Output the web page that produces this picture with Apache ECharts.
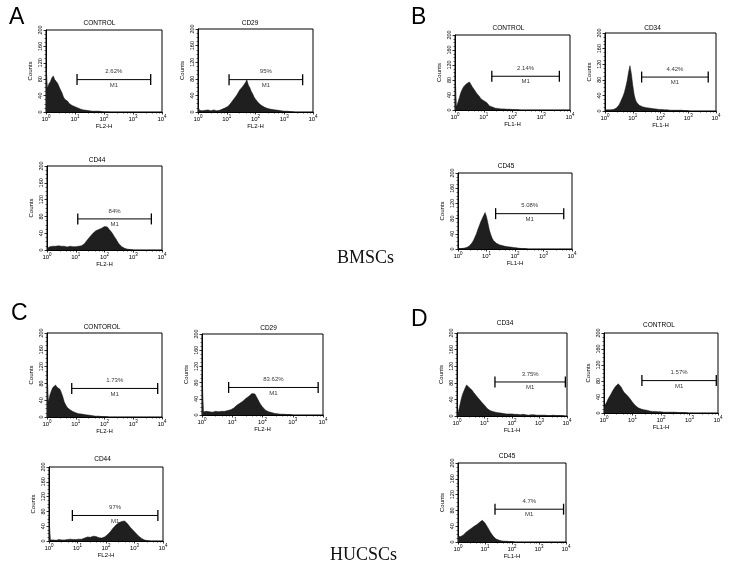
<!DOCTYPE html>
<html><head><meta charset="utf-8">
<script src="https://cdn.jsdelivr.net/npm/echarts@6/dist/echarts.min.js"></script>
<style>html,body{margin:0;padding:0;background:#fff}#c{width:735px;height:587px}</style>
</head><body><div id="c"></div>
<script>
// ---------- DATA ----------
const binStep = 0.05;               // width of one histogram bin, in decades, first bin at 10^0
const xTickExponents = [0, 1, 2, 3, 4];
const yTicks = [0, 40, 80, 120, 160, 200];
const panelLetters = ['A', 'B', 'C', 'D'];
const groupLabels = ['BMSCs', 'HUCSCs'];
const panelTitles = ['CONTROL', 'CD29', 'CD44', 'CONTROL', 'CD34', 'CD45',
                     'CONTOROL', 'CD29', 'CD44', 'CD34', 'CONTROL', 'CD45'];
const channelNames = ['FL2-H', 'FL2-H', 'FL2-H', 'FL1-H', 'FL1-H', 'FL1-H',
                      'FL2-H', 'FL2-H', 'FL2-H', 'FL1-H', 'FL1-H', 'FL1-H'];
const gatePercents = ['2.62%', '95%', '84%', '2.14%', '4.42%', '5.08%',
                      '1.73%', '83.62%', '97%', '3.75%', '1.57%', '4.7%'];
const gateName = 'M1';
const gateStartDecade = [1.07, 1.08, 1.07, 1.28, 1.32, 1.32, 0.86, 0.88, 0.82, 1.38, 1.33, 1.37];
const gateEndDecade   = [3.61, 3.64, 3.63, 3.63, 3.72, 3.71, 3.85, 3.84, 3.82, 3.94, 3.94, 3.91];
const gateLevel       = [79, 78, 74, 90, 87, 93, 68, 68, 69, 82, 81, 83];

const countsBmscControl = [114,58,69,74,83,88,79,81,70,66,54,47,37,31,27,26,21,20,16,15,13,11,10,9,7,7,5,5,4,4,3,3,2,3,2,1,2,1,1,1,0,1,0,1,0];
const countsBmscCD29 = [14,4,5,3,4,4,3,5,4,3,4,5,4,3,5,4,6,7,8,10,12,14,17,22,27,31,36,41,47,53,55,61,63,71,77,65,59,50,44,36,31,27,22,19,16,14,12,11,9,8,7,6,6,5,5,4,4,3,3,3,2,2,2,1,1,1,1,0];
const countsBmscCD44 = [4,6,8,7,9,10,9,11,10,8,9,10,9,8,7,8,9,7,8,7,8,8,9,8,10,12,15,19,24,28,32,36,40,43,46,45,49,48,52,50,56,53,55,50,47,42,38,31,26,20,15,11,8,6,4,3,2,2,1,1,0];
const countsBmscControlFL1 = [101,8,20,33,46,55,62,67,70,72,75,70,62,57,51,45,41,36,30,27,25,28,20,15,11,9,8,6,5,5,4,4,3,3,3,2,2,2,2,1,1,1,1,0,1,0];
const countsBmscCD34 = [3,2,3,2,3,3,4,5,7,10,15,22,30,38,48,62,78,100,116,95,66,42,28,21,17,14,12,11,10,9,8,8,7,7,6,6,5,5,5,4,4,4,3,3,3,3,3,2,3,2,2,2,2,2,1,2,1,1,1,1,1,0];
const countsBmscCD45 = [1,1,1,2,2,3,4,6,8,12,17,24,32,41,52,62,72,80,88,96,85,68,50,38,28,22,18,15,12,11,10,9,8,7,7,6,5,5,4,4,3,3,2,2,2,1,1,1,1,0];
const countsHucscControl = [107,35,52,62,70,74,76,71,70,66,58,48,36,29,23,19,17,15,13,12,10,9,8,8,7,6,6,5,5,4,4,3,3,3,2,2,2,2,1,1,1,1,1,0];
const countsHucscCD29 = [99,8,7,9,6,8,10,7,8,9,7,8,10,9,8,9,10,11,12,13,14,17,21,24,27,29,32,34,38,41,44,46,49,53,55,52,45,38,31,25,20,16,12,10,8,7,6,5,4,4,3,3,2,2,2,2,1,1,1,1,0];
const countsHucscCD44 = [64,3,2,3,3,2,3,4,3,3,4,3,4,4,3,5,4,4,5,4,5,5,6,5,7,8,10,11,12,10,12,13,11,12,10,9,8,8,9,11,14,17,21,25,30,35,39,43,46,49,50,53,55,54,50,47,42,37,33,29,25,21,17,13,10,7,5,3,2,1,1,0];
const countsHucscCD34 = [2,10,25,40,52,60,68,75,72,68,64,62,57,54,49,46,41,38,33,30,26,22,18,15,13,12,11,10,9,9,8,8,7,7,6,6,5,5,5,4,5,4,4,3,4,4,3,3,4,3,3,3,2,3,3,2,3,2,2,3,2,2,2,1,2,2,1,2,1,1,2,1,1,1,1,1,1,0,1];
const countsHucscControlFL1 = [15,18,28,36,42,48,55,60,66,71,73,70,65,58,52,49,45,41,37,33,27,22,19,16,13,11,10,9,8,7,7,6,5,5,4,4,4,3,3,3,3,3,2,3,2,2,2,2,2,1,2,2,1,1,1,1,1,1,1,0];
const countsHucscCD45 = [14,12,14,16,18,22,25,28,30,32,35,37,40,42,44,47,50,53,55,52,48,43,37,31,25,20,15,11,8,6,5,4,3,3,2,2,2,1,1,1,1,1,0];

const histograms = [countsBmscControl, countsBmscCD29, countsBmscCD44,
                    countsBmscControlFL1, countsBmscCD34, countsBmscCD45,
                    countsHucscControl, countsHucscCD29, countsHucscCD44,
                    countsHucscCD34, countsHucscControlFL1, countsHucscCD45];

// ---------- LAYOUT (styles only) ----------
const boxes = [[46,30,116,82],[198,29,115,83],[47,166,115,84],
               [455,35,115,75],[605,33,111,78],[458,173,114,76],
               [47,333,115,84],[202,334,121,81],[49,467,114,74],
               [457,333,110,83],[604,333,114,80],[458,463,108,79]];
const titlePos = [[99.5,23],[250,23.5],[97,160.5],[508.5,28.7],[652.5,28.5],[506,166],
                  [102,327.5],[268.5,328.5],[102.5,459],[505,323.5],[659,325.5],[507,456]];
const letterPos = [[9,17.5],[411,17.5],[11,314],[411,320]];
const groupPos = [[337,258],[330,555]];

const FONT = '"Liberation Sans", Arial, Helvetica, sans-serif';
const INK = '#000';

const grids = [], xAxes = [], yAxes = [], series = [], graphics = [];
histograms.forEach((counts, k) => {
  const b = boxes[k];
  grids.push({left: b[0], top: b[1], width: b[2], height: b[3], show: true,
              borderColor: '#000', borderWidth: 1, backgroundColor: 'transparent'});
  xAxes.push({
    type: 'log', logBase: 10, min: Math.pow(10, xTickExponents[0]),
    max: Math.pow(10, xTickExponents[xTickExponents.length - 1]), gridIndex: k,
    name: channelNames[k], nameLocation: 'middle', nameGap: 11,
    nameTextStyle: {fontSize: 6, color: INK, fontFamily: FONT},
    axisLine: {show: true, lineStyle: {color: '#000', width: 1}},
    axisTick: {show: true, length: 2.5, lineStyle: {color: '#000', width: 0.8}},
    minorTick: {show: true, splitNumber: 5, length: 1.5, lineStyle: {color: '#000', width: 0.6}},
    splitLine: {show: false},
    axisLabel: {
      margin: 2.5, color: INK, fontFamily: FONT, showMinLabel: true, showMaxLabel: true,
      formatter: v => '{b|10}{s|' + Math.round(Math.log10(v)) + '}',
      rich: {b: {fontSize: 6, lineHeight: 8, verticalAlign: 'bottom', fontFamily: FONT, color: INK},
             s: {fontSize: 4.5, lineHeight: 8, verticalAlign: 'top', fontFamily: FONT, color: INK}}
    }
  });
  yAxes.push({
    type: 'value', min: yTicks[0], max: yTicks[yTicks.length - 1], interval: yTicks[1] - yTicks[0],
    gridIndex: k, name: 'Counts', nameLocation: 'middle', nameGap: 13, nameRotate: 90,
    nameTextStyle: {fontSize: 6, color: INK, fontFamily: FONT},
    axisLine: {show: true, lineStyle: {color: '#000', width: 1}},
    axisTick: {show: true, length: 2.5, lineStyle: {color: '#000', width: 0.8}},
    minorTick: {show: true, splitNumber: 4, length: 1.5, lineStyle: {color: '#000', width: 0.6}},
    splitLine: {show: false},
    axisLabel: {rotate: 90, fontSize: 5.5, margin: 3, color: INK, fontFamily: FONT}
  });
  series.push({
    type: 'line', xAxisIndex: k, yAxisIndex: k, symbol: 'none', silent: true, z: 2,
    data: counts.map((c, i) => [Math.pow(10, i * binStep), c]),
    lineStyle: {width: 0.5, color: '#111'},
    areaStyle: {color: '#1f1f1f', opacity: 1}
  });
  const x1 = Math.pow(10, gateStartDecade[k]), x2 = Math.pow(10, gateEndDecade[k]);
  series.push({
    type: 'line', xAxisIndex: k, yAxisIndex: k, silent: true, z: 3,
    data: [[x1, gateLevel[k]], [x2, gateLevel[k]]],
    symbol: 'rect', symbolSize: [1.3, 11], showAllSymbol: true,
    itemStyle: {color: '#000'}, lineStyle: {width: 1, color: '#000'}
  });
  const mid = Math.sqrt(x1 * x2);
  series.push({
    type: 'scatter', xAxisIndex: k, yAxisIndex: k, silent: true, z: 4, symbolSize: 0,
    label: {show: true, fontSize: 6, color: INK, fontFamily: FONT},
    data: [
      {value: [mid, gateLevel[k]], label: {position: 'top', distance: 5, formatter: gatePercents[k]}},
      {value: [mid, gateLevel[k]], label: {position: 'bottom', distance: 2.5, formatter: gateName}}
    ]
  });
  graphics.push({type: 'text', x: titlePos[k][0], y: titlePos[k][1], silent: true,
    style: {text: panelTitles[k], fontSize: 6.5, fontFamily: FONT, fill: INK,
            align: 'center', verticalAlign: 'middle', textAlign: 'center', textVerticalAlign: 'middle'}});
});
panelLetters.forEach((L, i) => graphics.push({type: 'text', x: letterPos[i][0], y: letterPos[i][1], silent: true,
  style: {text: L, fontSize: 23, fontFamily: FONT, fill: '#000',
          align: 'left', verticalAlign: 'middle', textAlign: 'left', textVerticalAlign: 'middle'}}));
groupLabels.forEach((g, i) => graphics.push({type: 'text', x: groupPos[i][0], y: groupPos[i][1], silent: true,
  style: {text: g, fontSize: 18, fontFamily: '"Liberation Serif", "Times New Roman", serif', fill: '#111',
          align: 'left', verticalAlign: 'middle', textAlign: 'left', textVerticalAlign: 'middle'}}));

const chart = echarts.init(document.getElementById('c'), null, {renderer: 'canvas'});
chart.setOption({
  animation: false, backgroundColor: '#fff',
  grid: grids, xAxis: xAxes, yAxis: yAxes, series: series, graphic: graphics
});
</script></body></html>
